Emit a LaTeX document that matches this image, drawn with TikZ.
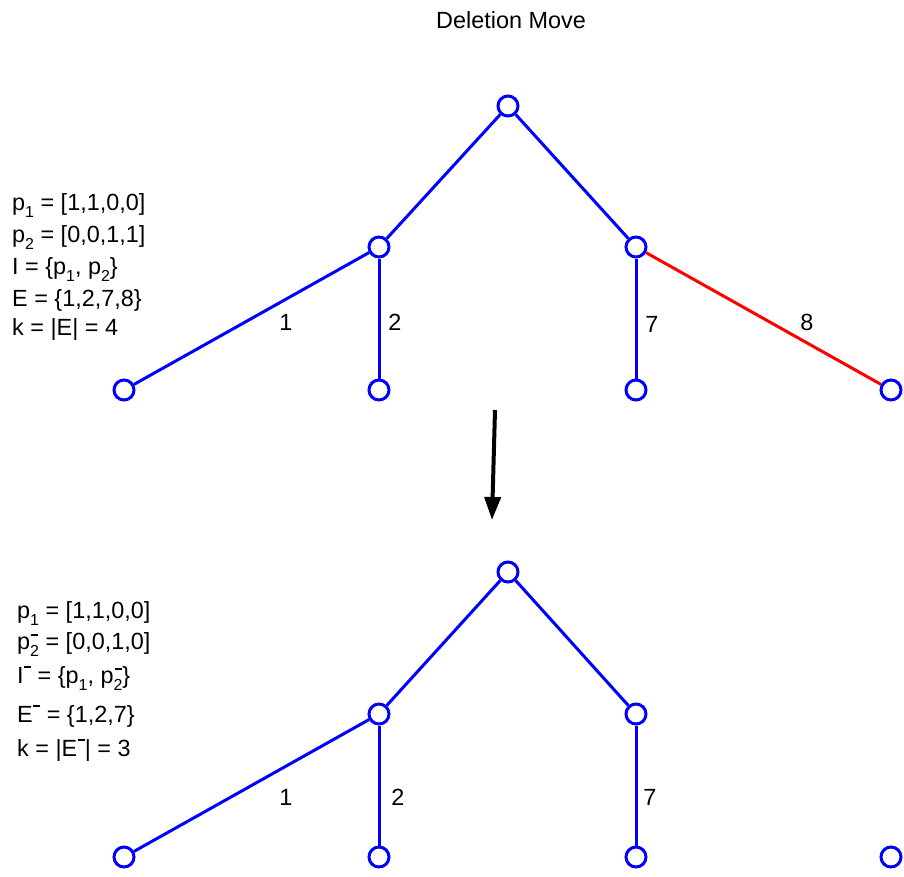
\documentclass[tikz,border=0pt]{standalone}
\usepackage{fontspec}
\setmainfont{Liberation Sans}
\usetikzlibrary{arrows.meta}
\newcommand\smallf{\fontsize{16}{16}\selectfont}
\newcommand\sbs[1]{\raisebox{-7bp}{\smallf #1}}
\newcommand\mbar{\rule{7bp}{1.6bp}}
\newcommand\supm{\hspace{0.5bp}\raisebox{15bp}{\mbar}}
\newcommand\sbsup[2]{\makebox[0pt][l]{\hspace{1bp}\raisebox{13bp}{#2}}\raisebox{-7bp}{\smallf #1}}
\begin{document}
\begin{tikzpicture}[x=1bp,y=-1bp,
  every node/.style={font=\fontsize{23.5}{26}\selectfont},
  vtx/.style={circle,draw=blue,fill=white,line width=3bp,minimum size=20bp,inner sep=0pt},
  edg/.style={draw=blue,line width=3bp},
  redg/.style={draw=red,line width=3bp},
  lbl/.style={inner sep=0pt},
  txt/.style={anchor=base west,inner sep=0pt}]
\useasboundingbox (0,0) rectangle (904,877);
\node[lbl] (title) at (511,20) {Deletion Move};
% top tree
\node[vtx] (r) at (508,106) {};
\node[vtx] (a) at (379,247) {};
\node[vtx] (b) at (636,247) {};
\node[vtx] (l1) at (124,390) {};
\node[vtx] (l2) at (379,390) {};
\node[vtx] (l3) at (636,390) {};
\node[vtx] (l4) at (891,390) {};
\draw[edg] (r) -- (a);
\draw[edg] (r) -- (b);
\draw[edg] (a) -- (l1);
\draw[edg] (a) -- (l2);
\draw[edg] (b) -- (l3);
\draw[redg] (b) -- (l4);
\node[lbl] (e1) at (286,322) {1};
\node[lbl] (e2) at (395,322) {2};
\node[lbl] (e7) at (652,324) {7};
\node[lbl] (e8) at (807,322) {8};
% top text
\node[txt] (t1) at (12,210) {p\sbs{1} = [1,1,0,0]};
\node[txt] (t2) at (12,242) {p\sbs{2} = [0,0,1,1]};
\node[txt] (t3) at (12,274) {I = \{p\sbs{1}, p\sbs{2}\}};
\node[txt] (t4) at (12,306) {E = \{1,2,7,8\}};
\node[txt] (t5) at (12,335) {k = |E| = 4};
% arrow
\coordinate (arA) at (495,410);
\coordinate (arB) at (492,520);
\draw[line width=4bp,-{Triangle[width=16bp,length=23bp]}] (arA) -- (arB);
% bottom tree
\node[vtx] (R) at (508,572) {};
\node[vtx] (A) at (379,714) {};
\node[vtx] (B) at (636,714) {};
\node[vtx] (L1) at (124,857) {};
\node[vtx] (L2) at (379,857) {};
\node[vtx] (L3) at (636,857) {};
\node[vtx] (L4) at (891,857) {};
\draw[edg] (R) -- (A);
\draw[edg] (R) -- (B);
\draw[edg] (A) -- (L1);
\draw[edg] (A) -- (L2);
\draw[edg] (B) -- (L3);
\node[lbl] (E1) at (286,797) {1};
\node[lbl] (E2) at (398,797) {2};
\node[lbl] (E7) at (650,797) {7};
% bottom text
\node[txt] (u1) at (17,618) {p\sbs{1} = [1,1,0,0]};
\node[txt] (u2) at (17,649) {p\sbsup{2}{\mbar} = [0,0,1,0]};
\node[txt] (u3) at (17,683) {I\supm{} = \{p\sbs{1}, p\sbsup{2}{\mbar}\}};
\node[txt] (u4) at (17,722) {E\supm{} = \{1,2,7\}};
\node[txt] (u5) at (17,756) {k = |E\supm{}| = 3};
\end{tikzpicture}
\end{document}
